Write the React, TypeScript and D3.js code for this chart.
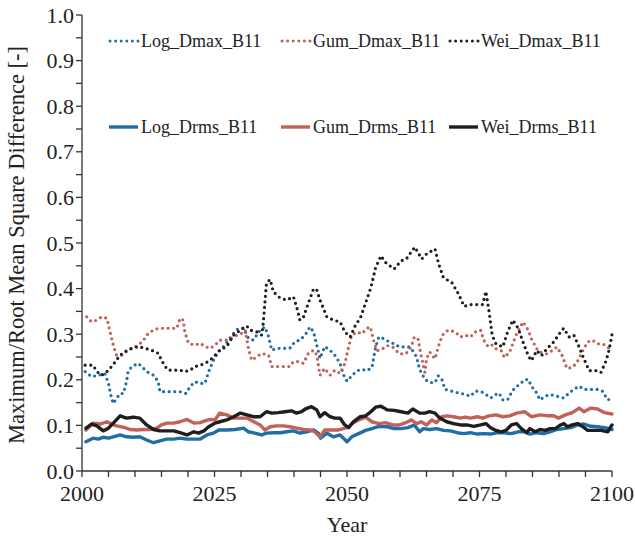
import React from "react";
import * as d3 from "d3";

type Pt = [number, number];

// Series as [year, value] pairs
const logDmax: Pt[] = [
  [2000.6, 0.218], [2001.8, 0.207], [2003.1, 0.21], [2004.3, 0.214], [2005.0, 0.192], [2005.3, 0.174],
  [2005.6, 0.159], [2005.9, 0.148], [2006.5, 0.159], [2007.2, 0.17], [2007.8, 0.17], [2008.4, 0.196],
  [2008.7, 0.218], [2009.4, 0.229], [2010.6, 0.236], [2011.3, 0.229], [2012.2, 0.218], [2013.5, 0.21],
  [2014.4, 0.196], [2014.7, 0.174], [2016.0, 0.174], [2017.3, 0.174], [2018.5, 0.174], [2019.6, 0.17],
  [2020.4, 0.185], [2021.3, 0.196], [2022.3, 0.192], [2023.2, 0.192], [2023.9, 0.218], [2024.8, 0.243],
  [2025.8, 0.262], [2026.7, 0.273], [2027.6, 0.287], [2028.6, 0.302], [2029.5, 0.313], [2030.5, 0.313],
  [2031.4, 0.291], [2032.3, 0.287], [2033.6, 0.309], [2034.5, 0.316], [2035.2, 0.295], [2035.8, 0.265],
  [2036.7, 0.269], [2038.0, 0.269], [2039.2, 0.269], [2040.2, 0.284], [2041.1, 0.287], [2042.1, 0.298],
  [2043.0, 0.316], [2043.7, 0.305], [2044.3, 0.276], [2044.9, 0.247], [2045.8, 0.273], [2046.8, 0.265],
  [2047.7, 0.254], [2048.7, 0.236], [2049.3, 0.212], [2050.0, 0.197], [2050.9, 0.209], [2051.9, 0.22],
  [2052.8, 0.223], [2053.8, 0.22], [2054.7, 0.227], [2055.4, 0.272], [2056.0, 0.294], [2057.0, 0.29],
  [2058.0, 0.283], [2058.9, 0.279], [2059.9, 0.272], [2060.8, 0.272], [2061.8, 0.272], [2062.4, 0.264],
  [2063.1, 0.251], [2063.7, 0.223], [2064.7, 0.201], [2065.6, 0.194], [2066.6, 0.194], [2067.2, 0.209],
  [2067.9, 0.201], [2068.5, 0.179], [2069.8, 0.175], [2071.1, 0.171], [2072.3, 0.168], [2073.3, 0.164],
  [2074.2, 0.175], [2075.2, 0.175], [2076.2, 0.168], [2077.1, 0.16], [2078.1, 0.168], [2078.7, 0.171],
  [2079.4, 0.156], [2080.3, 0.156], [2081.0, 0.171], [2081.6, 0.182], [2082.6, 0.19], [2083.5, 0.2],
  [2084.2, 0.201], [2084.8, 0.186], [2085.8, 0.171], [2086.4, 0.156], [2087.4, 0.164], [2088.3, 0.168],
  [2089.6, 0.164], [2090.9, 0.16], [2091.9, 0.171], [2092.8, 0.179], [2093.8, 0.186], [2094.7, 0.179],
  [2096.0, 0.179], [2097.3, 0.179], [2098.2, 0.175], [2099.2, 0.156], [2100.0, 0.16],
];

const gumDmax: Pt[] = [
  [2000.9, 0.338], [2001.8, 0.327], [2002.8, 0.331], [2003.7, 0.338], [2004.7, 0.335], [2005.3, 0.305],
  [2005.9, 0.276], [2006.5, 0.254], [2007.5, 0.254], [2008.4, 0.262], [2009.4, 0.269], [2010.6, 0.276],
  [2011.6, 0.287], [2012.5, 0.302], [2013.5, 0.309], [2014.4, 0.313], [2015.7, 0.313], [2016.9, 0.313],
  [2017.9, 0.313], [2018.5, 0.335], [2019.1, 0.331], [2019.4, 0.305], [2020.1, 0.28], [2021.3, 0.276],
  [2022.3, 0.28], [2023.2, 0.273], [2024.2, 0.269], [2025.1, 0.276], [2026.0, 0.287], [2027.3, 0.287],
  [2028.2, 0.291], [2029.2, 0.298], [2030.1, 0.302], [2030.8, 0.309], [2031.4, 0.269], [2032.0, 0.243],
  [2033.0, 0.251], [2033.9, 0.258], [2035.2, 0.254], [2035.8, 0.229], [2036.7, 0.229], [2038.0, 0.229],
  [2039.2, 0.229], [2039.9, 0.24], [2040.8, 0.24], [2041.8, 0.236], [2042.7, 0.258], [2043.7, 0.265],
  [2044.3, 0.254], [2044.9, 0.21], [2045.8, 0.225], [2046.8, 0.21], [2047.7, 0.221], [2048.7, 0.214],
  [2049.6, 0.236], [2050.3, 0.272], [2050.9, 0.298], [2051.9, 0.305], [2052.8, 0.301], [2053.8, 0.313],
  [2054.4, 0.316], [2055.1, 0.283], [2055.7, 0.264], [2056.7, 0.268], [2057.6, 0.275], [2058.6, 0.272],
  [2059.9, 0.257], [2061.1, 0.257], [2062.1, 0.272], [2062.7, 0.294], [2063.4, 0.29], [2064.0, 0.253],
  [2064.7, 0.216], [2065.0, 0.246], [2065.6, 0.261], [2066.6, 0.246], [2067.5, 0.283], [2068.2, 0.301],
  [2069.1, 0.309], [2070.4, 0.305], [2071.4, 0.294], [2072.3, 0.298], [2073.3, 0.294], [2074.2, 0.305],
  [2075.2, 0.309], [2075.8, 0.287], [2076.5, 0.275], [2077.1, 0.279], [2078.1, 0.268], [2079.1, 0.264],
  [2079.7, 0.249], [2080.7, 0.261], [2081.9, 0.298], [2083.2, 0.327], [2084.2, 0.309], [2084.8, 0.29],
  [2085.8, 0.268], [2086.4, 0.261], [2087.7, 0.257], [2088.7, 0.264], [2089.6, 0.272], [2090.6, 0.253],
  [2091.5, 0.225], [2092.5, 0.227], [2093.4, 0.238], [2094.5, 0.264], [2095.4, 0.283], [2096.3, 0.287],
  [2097.3, 0.279], [2098.2, 0.279], [2099.2, 0.272], [2100.0, 0.264],
];

const weiDmax: Pt[] = [
  [2000.6, 0.232], [2002.1, 0.232], [2002.8, 0.218], [2003.7, 0.21], [2004.7, 0.218], [2005.6, 0.229],
  [2006.5, 0.243], [2007.2, 0.254], [2008.1, 0.262], [2009.4, 0.269], [2010.6, 0.273], [2011.9, 0.269],
  [2013.1, 0.265], [2014.4, 0.258], [2015.0, 0.243], [2015.7, 0.229], [2016.3, 0.221], [2017.5, 0.221],
  [2018.5, 0.221], [2019.4, 0.218], [2020.4, 0.221], [2021.3, 0.229], [2022.3, 0.232], [2023.2, 0.236],
  [2024.2, 0.243], [2025.1, 0.254], [2026.0, 0.265], [2027.3, 0.273], [2028.6, 0.298], [2029.9, 0.309],
  [2031.1, 0.318], [2031.7, 0.309], [2033.0, 0.305], [2033.9, 0.298], [2034.2, 0.324], [2034.5, 0.368],
  [2034.8, 0.412], [2035.5, 0.42], [2036.1, 0.393], [2037.4, 0.379], [2038.6, 0.375], [2039.9, 0.382],
  [2040.5, 0.36], [2041.1, 0.331], [2041.8, 0.338], [2042.7, 0.368], [2043.7, 0.4], [2044.3, 0.397],
  [2044.9, 0.375], [2046.2, 0.338], [2047.4, 0.331], [2048.7, 0.327], [2049.6, 0.305], [2050.6, 0.294],
  [2051.6, 0.32], [2052.5, 0.335], [2053.5, 0.368], [2054.5, 0.402], [2055.4, 0.446], [2056.4, 0.472],
  [2057.3, 0.457], [2058.9, 0.443], [2060.2, 0.461], [2061.2, 0.465], [2062.1, 0.48], [2062.8, 0.491],
  [2064.1, 0.465], [2065.0, 0.476], [2066.6, 0.487], [2067.3, 0.454], [2068.2, 0.424], [2069.8, 0.413],
  [2071.1, 0.387], [2072.1, 0.361], [2073.4, 0.365], [2074.7, 0.365], [2075.6, 0.365], [2076.2, 0.394],
  [2076.8, 0.35], [2077.4, 0.298], [2078.1, 0.279], [2079.4, 0.272], [2080.3, 0.305], [2081.3, 0.331],
  [2082.3, 0.313], [2083.2, 0.283], [2084.2, 0.253], [2084.8, 0.242], [2085.8, 0.264], [2086.7, 0.253],
  [2087.7, 0.268], [2089.0, 0.283], [2090.3, 0.305], [2090.9, 0.313], [2091.9, 0.294], [2092.8, 0.298],
  [2093.8, 0.272], [2094.7, 0.246], [2095.7, 0.22], [2097.0, 0.22], [2097.9, 0.216], [2098.9, 0.242],
  [2099.5, 0.268], [2100.0, 0.3],
];

const logDrms: Pt[] = [
  [2000.75, 0.064], [2002.1, 0.072], [2003.1, 0.07], [2004.0, 0.074], [2005.0, 0.072], [2005.9, 0.075],
  [2007.2, 0.079], [2008.4, 0.075], [2009.7, 0.074], [2010.9, 0.075], [2012.2, 0.068], [2013.5, 0.062],
  [2014.7, 0.066], [2016.0, 0.07], [2017.3, 0.07], [2018.5, 0.072], [2019.8, 0.07], [2021.1, 0.07],
  [2022.3, 0.07], [2023.6, 0.079], [2024.8, 0.083], [2025.8, 0.09], [2027.3, 0.09], [2028.9, 0.091],
  [2030.5, 0.094], [2031.4, 0.086], [2032.6, 0.083], [2033.9, 0.079], [2034.8, 0.083], [2036.1, 0.084],
  [2037.4, 0.084], [2038.6, 0.086], [2039.9, 0.088], [2041.1, 0.083], [2042.4, 0.086], [2043.7, 0.09],
  [2044.6, 0.083], [2045.0, 0.072], [2046.2, 0.083], [2047.4, 0.075], [2048.7, 0.079], [2049.3, 0.072],
  [2050.0, 0.064], [2050.9, 0.075], [2052.2, 0.082], [2053.5, 0.089], [2054.7, 0.093], [2056.0, 0.098],
  [2057.6, 0.097], [2058.9, 0.093], [2060.2, 0.093], [2061.5, 0.095], [2062.7, 0.101], [2063.7, 0.086],
  [2064.4, 0.093], [2065.6, 0.091], [2066.9, 0.093], [2068.2, 0.089], [2069.5, 0.088], [2070.8, 0.084],
  [2072.0, 0.082], [2073.3, 0.084], [2074.6, 0.081], [2075.8, 0.082], [2077.1, 0.081], [2078.4, 0.084],
  [2079.7, 0.084], [2081.0, 0.082], [2082.3, 0.086], [2083.5, 0.086], [2084.5, 0.081], [2085.8, 0.084],
  [2087.1, 0.082], [2088.3, 0.086], [2089.6, 0.091], [2090.9, 0.093], [2092.2, 0.095], [2093.5, 0.101],
  [2094.7, 0.103], [2096.0, 0.098], [2097.3, 0.097], [2098.6, 0.095], [2100.0, 0.091],
];

const gumDrms: Pt[] = [
  [2000.75, 0.09], [2002.1, 0.105], [2003.4, 0.103], [2004.7, 0.108], [2005.6, 0.103], [2006.5, 0.099],
  [2007.8, 0.096], [2009.1, 0.091], [2010.4, 0.09], [2011.6, 0.091], [2012.8, 0.091], [2014.1, 0.094],
  [2015.0, 0.101], [2016.0, 0.105], [2017.3, 0.105], [2018.5, 0.108], [2019.8, 0.113], [2021.1, 0.105],
  [2022.3, 0.106], [2023.2, 0.11], [2024.2, 0.113], [2025.1, 0.112], [2026.0, 0.127], [2027.3, 0.123],
  [2028.6, 0.116], [2029.9, 0.116], [2031.1, 0.116], [2032.4, 0.108], [2033.6, 0.101], [2034.5, 0.09],
  [2035.5, 0.097], [2036.7, 0.099], [2038.0, 0.099], [2039.2, 0.097], [2040.5, 0.094], [2041.8, 0.091],
  [2043.0, 0.09], [2043.9, 0.086], [2044.9, 0.075], [2045.8, 0.09], [2047.1, 0.09], [2048.4, 0.09],
  [2049.3, 0.093], [2050.3, 0.097], [2051.2, 0.106], [2052.2, 0.112], [2053.5, 0.118], [2054.7, 0.108],
  [2056.0, 0.104], [2057.3, 0.106], [2058.6, 0.101], [2059.9, 0.101], [2061.1, 0.106], [2062.1, 0.112],
  [2063.1, 0.104], [2064.0, 0.108], [2065.0, 0.101], [2066.0, 0.112], [2066.9, 0.106], [2067.9, 0.119],
  [2068.8, 0.121], [2070.1, 0.119], [2071.4, 0.116], [2072.3, 0.118], [2073.3, 0.116], [2074.6, 0.119],
  [2075.6, 0.116], [2076.8, 0.121], [2078.1, 0.123], [2079.4, 0.119], [2080.7, 0.121], [2082.0, 0.127],
  [2083.5, 0.13], [2084.8, 0.119], [2086.4, 0.123], [2088.0, 0.121], [2089.0, 0.121], [2089.9, 0.116],
  [2091.2, 0.123], [2092.5, 0.128], [2093.8, 0.138], [2094.7, 0.13], [2096.0, 0.138], [2097.3, 0.136],
  [2098.6, 0.128], [2100.0, 0.125],
];

const weiDrms: Pt[] = [
  [2000.75, 0.094], [2001.8, 0.103], [2002.8, 0.099], [2004.0, 0.088], [2005.0, 0.094], [2005.9, 0.105],
  [2007.2, 0.121], [2008.4, 0.116], [2009.7, 0.118], [2010.9, 0.116], [2012.2, 0.101], [2013.5, 0.091],
  [2014.7, 0.088], [2016.0, 0.088], [2017.3, 0.088], [2018.5, 0.084], [2019.8, 0.079], [2021.1, 0.086],
  [2022.0, 0.083], [2023.0, 0.088], [2023.9, 0.097], [2025.1, 0.105], [2026.0, 0.108], [2027.3, 0.112],
  [2028.6, 0.119], [2029.9, 0.127], [2031.1, 0.123], [2032.4, 0.119], [2033.6, 0.119], [2034.8, 0.13],
  [2035.8, 0.127], [2037.0, 0.128], [2038.3, 0.13], [2039.5, 0.132], [2040.5, 0.127], [2041.4, 0.13],
  [2042.3, 0.137], [2043.3, 0.141], [2044.3, 0.134], [2044.9, 0.119], [2045.8, 0.128], [2046.8, 0.119],
  [2047.7, 0.116], [2048.7, 0.116], [2049.5, 0.102], [2050.3, 0.095], [2051.2, 0.108], [2052.5, 0.119],
  [2053.5, 0.121], [2054.5, 0.13], [2055.4, 0.14], [2056.4, 0.142], [2057.6, 0.134], [2058.9, 0.133],
  [2060.2, 0.13], [2061.5, 0.127], [2062.4, 0.136], [2063.7, 0.127], [2064.7, 0.127], [2065.6, 0.13],
  [2066.6, 0.127], [2067.5, 0.116], [2068.8, 0.108], [2070.1, 0.104], [2071.4, 0.101], [2072.6, 0.101],
  [2073.9, 0.098], [2075.2, 0.101], [2076.2, 0.104], [2077.1, 0.095], [2078.1, 0.089], [2079.1, 0.086],
  [2080.0, 0.089], [2081.0, 0.101], [2082.0, 0.104], [2082.9, 0.093], [2083.9, 0.084], [2084.5, 0.093],
  [2085.5, 0.086], [2086.4, 0.091], [2087.4, 0.089], [2088.3, 0.093], [2089.3, 0.093], [2090.3, 0.101],
  [2090.9, 0.104], [2091.6, 0.097], [2092.5, 0.101], [2093.5, 0.104], [2094.5, 0.097], [2095.4, 0.089],
  [2096.7, 0.089], [2097.9, 0.089], [2099.2, 0.086], [2100.0, 0.101],
];

const xTicks = [2000, 2025, 2050, 2075, 2100];
const yTicks = [0, 0.1, 0.2, 0.3, 0.4, 0.5, 0.6, 0.7, 0.8, 0.9, 1.0];

const BLUE = "#1f6ea6";
const RED = "#c0615a";
const BLACK = "#1e1e1e";

const dotted = [
  { name: "Log_Dmax_B11", data: logDmax, color: BLUE },
  { name: "Gum_Dmax_B11", data: gumDmax, color: RED },
  { name: "Wei_Dmax_B11", data: weiDmax, color: BLACK },
];
const solid = [
  { name: "Log_Drms_B11", data: logDrms, color: BLUE },
  { name: "Gum_Drms_B11", data: gumDrms, color: RED },
  { name: "Wei_Drms_B11", data: weiDrms, color: BLACK },
];

const W = 635;
const H = 539;
const FONT = "'Liberation Serif', 'Times New Roman', serif";

export default function App() {
  const x = d3.scaleLinear().domain([2000, 2100]).range([82, 612]);
  const y = d3.scaleLinear().domain([0, 1]).range([471, 15]);
  const line = d3
    .line<Pt>()
    .x((d) => x(d[0]))
    .y((d) => y(d[1]));

  const xMinor = d3.range(2000, 2101, 5);
  const yMinor = d3.range(0, 1.0001, 0.05);

  const legendX = [109, 281, 449];
  const legendRowY = [41, 127];

  return (
    <svg
      width={W}
      height={H}
      style={{ position: "absolute", left: 0, top: 0, background: "#fff" }}
      fontFamily={FONT}
    >
      <rect width={W} height={H} fill="#fff" />

      {/* series */}
      {solid.map((s) => (
        <path
          key={s.name}
          d={line(s.data) || ""}
          fill="none"
          stroke={s.color}
          strokeWidth={3.4}
          strokeLinejoin="round"
          strokeLinecap="round"
        />
      ))}
      {dotted.map((s) => (
        <path
          key={s.name}
          d={line(s.data) || ""}
          fill="none"
          stroke={s.color}
          strokeWidth={3.2}
          strokeDasharray="0 5.6"
          strokeLinecap="round"
        />
      ))}

      {/* axes */}
      <line x1={x(2000)} x2={x(2100)} y1={y(0)} y2={y(0)} stroke="#333" strokeWidth={1.3} />
      <line x1={x(2000)} x2={x(2000)} y1={y(0)} y2={y(1)} stroke="#333" strokeWidth={1.3} />
      {xMinor.map((v) => (
        <line key={"xt" + v} x1={x(v)} x2={x(v)} y1={y(0)} y2={y(0) + 6} stroke="#333" strokeWidth={1.3} />
      ))}
      {yMinor.map((v) => (
        <line key={"yt" + v} x1={x(2000) - 6} x2={x(2000)} y1={y(v)} y2={y(v)} stroke="#333" strokeWidth={1.3} />
      ))}
      {xTicks.map((v) => (
        <text key={"xl" + v} x={x(v)} y={y(0) + 30} textAnchor="middle" fontSize={22} fill="#222">
          {v}
        </text>
      ))}
      {yTicks.map((v) => (
        <text key={"yl" + v} x={x(2000) - 8} y={y(v) + 7.5} textAnchor="end" fontSize={22} fill="#222">
          {v.toFixed(1)}
        </text>
      ))}
      <text x={(x(2000) + x(2100)) / 2} y={532} textAnchor="middle" fontSize={22} fill="#222">
        Year
      </text>
      <text
        transform={`translate(24, ${(y(0) + y(1)) / 2 + 2}) rotate(-90)`}
        textAnchor="middle"
        fontSize={22.5}
        fill="#222"
      >
        Maximum/Root Mean Square Difference [-]
      </text>

      {/* legend */}
      {dotted.map((s, i) => (
        <g key={"ld" + s.name}>
          <line
            x1={legendX[i] + 1}
            x2={legendX[i] + 29}
            y1={legendRowY[0]}
            y2={legendRowY[0]}
            stroke={s.color}
            strokeWidth={3}
            strokeDasharray="0 5.6"
            strokeLinecap="round"
          />
          <text x={legendX[i] + 32} y={legendRowY[0] + 6} fontSize={18} fill="#222">
            {s.name}
          </text>
        </g>
      ))}
      {solid.map((s, i) => (
        <g key={"ls" + s.name}>
          <line
            x1={legendX[i]}
            x2={legendX[i] + 29}
            y1={legendRowY[1]}
            y2={legendRowY[1]}
            stroke={s.color}
            strokeWidth={3.4}
          />
          <text x={legendX[i] + 32} y={legendRowY[1] + 6} fontSize={18} fill="#222">
            {s.name}
          </text>
        </g>
      ))}
    </svg>
  );
}
